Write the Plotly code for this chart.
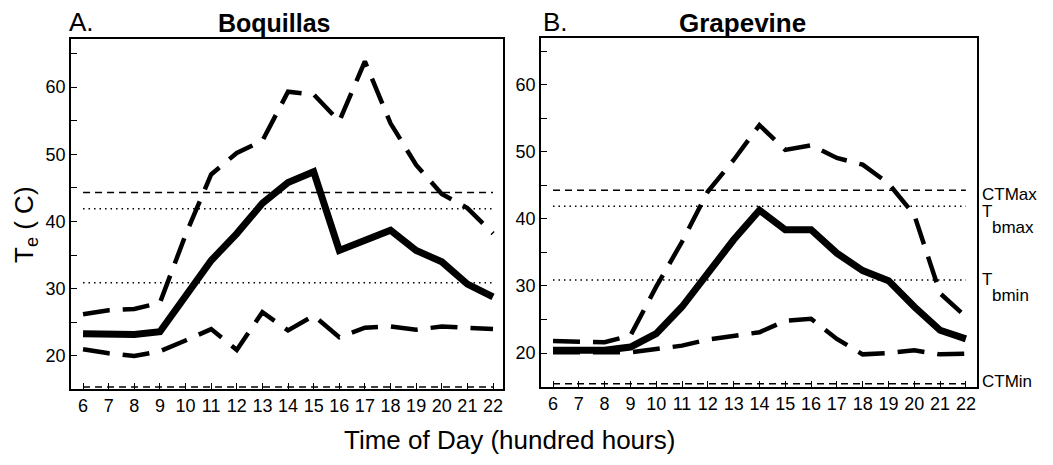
import plotly.graph_objects as go

# ---------------- data ----------------
hours = list(range(6, 23))
hour_labels = [str(h) for h in hours]

boq_mean = [23.3, 23.3, 23.2, 23.6, 28.8, 34.2, 38.2, 42.7, 45.8, 47.4, 35.7, 37.2, 38.7, 35.7, 34.0, 30.7, 28.8]
boq_max = [26.2, 26.8, 27.0, 27.9, 38.0, 47.0, 50.2, 52.0, 59.3, 58.9, 54.9, 63.8, 54.6, 48.4, 44.1, 42.0, 38.2]
boq_min = [21.0, 20.4, 20.0, 20.7, 22.3, 24.0, 20.9, 26.5, 23.8, 26.0, 22.8, 24.2, 24.4, 23.9, 24.4, 24.2, 24.0]

gra_mean = [20.4, 20.4, 20.4, 20.9, 22.9, 26.9, 31.8, 36.9, 41.3, 38.4, 38.4, 34.9, 32.3, 30.8, 26.9, 23.4, 22.1]
gra_max = [21.8, 21.7, 21.6, 22.6, 29.9, 36.6, 44.1, 48.8, 54.0, 50.3, 51.0, 49.1, 48.1, 45.3, 40.6, 28.9, 25.4]
gra_min = [20.1, 20.1, 20.1, 20.1, 20.6, 21.1, 22.0, 22.6, 23.1, 24.8, 25.1, 22.1, 19.8, 20.0, 20.4, 19.8, 19.9]

ct_max = 44.3
tb_max = 41.9
tb_min = 30.9
ct_min = 15.4

y_ticks = [20, 25, 30, 35, 40, 45, 50, 55, 60, 65]
y_labels = ["20", "", "30", "", "40", "", "50", "", "60", ""]

# ---------------- figure ----------------
# The page body adds an 8px margin, so the figure is sized/offset to compensate.
OFF = 8
W, H = 1053 - 2 * OFF, 465 - 2 * OFF
FONT = "Liberation Sans, Arial, Helvetica, sans-serif"

def px(x):
    return (x - OFF) / W

def py(y):
    return 1 - (y - OFF) / H

fig = go.Figure()

def add_panel(xa, ya, mean, mx, mn):
    for vals, width, dash in [(mx, 4.5, "27px,13px"), (mn, 4.5, "27px,13px"), (mean, 7, "solid")]:
        fig.add_trace(go.Scatter(
            x=hours, y=vals, mode="lines",
            line=dict(color="black", width=width, dash=dash),
            xaxis=xa, yaxis=ya, showlegend=False, hoverinfo="skip"))
    for val, dash in [(ct_max, "7px,5px"), (tb_max, "1.5px,4px"),
                      (tb_min, "1.5px,4px"), (ct_min, "7px,5px")]:
        fig.add_trace(go.Scatter(
            x=[hours[0], hours[-1]], y=[val, val], mode="lines",
            line=dict(color="black", width=1.5, dash=dash),
            xaxis=xa, yaxis=ya, showlegend=False, hoverinfo="skip"))

add_panel("x", "y", boq_mean, boq_max, boq_min)
add_panel("x2", "y2", gra_mean, gra_max, gra_min)

xcommon = dict(tickvals=hours, ticktext=hour_labels, ticks="inside", ticklen=6,
               tickcolor="black", showline=True, mirror=True, linecolor="black",
               linewidth=1.5, showgrid=False, zeroline=False,
               tickfont=dict(size=18, color="black", family=FONT))
ycommon = dict(tickvals=y_ticks, ticktext=y_labels, ticks="inside", ticklen=6,
               tickcolor="black", showline=True, mirror=True, linecolor="black",
               linewidth=1.5, showgrid=False, zeroline=False,
               tickfont=dict(size=18, color="black", family=FONT))

fig.update_layout(
    width=W, height=H,
    margin=dict(l=0, r=0, t=0, b=0),
    paper_bgcolor="white", plot_bgcolor="white",
    font=dict(family=FONT, color="black"),
    xaxis=dict(domain=[px(71), px(503)], range=[5.53, 22.39], anchor="y", **xcommon),
    yaxis=dict(domain=[py(389), py(39)], range=[15.09, 67.14], anchor="x", **ycommon),
    xaxis2=dict(domain=[px(541), px(977)], range=[5.535, 22.43], anchor="y2", **xcommon),
    yaxis2=dict(domain=[py(387), py(38)], range=[14.93, 67.0], anchor="x2", **ycommon),
)

def ann(text, x, y, size, xanchor="left", angle=0, pad=1):
    fig.add_annotation(text=text, x=px(x), y=py(y), xref="paper", yref="paper",
                       xanchor=xanchor, yanchor="middle", showarrow=False,
                       textangle=angle, borderpad=pad,
                       font=dict(size=size, family=FONT, color="black"))

ann("A.", 68, 22, 26, pad=0)
ann("<b>Boquillas</b>", 274.5, 23, 25, "center", pad=0)
ann("B.", 542, 22, 26, pad=0)
ann("<b>Grapevine</b>", 742, 23, 26, "center", pad=0)
ann("Time of Day (hundred hours)", 509, 440, 26, "center")
ann("T<sub>e</sub> ( C)", 25, 225, 26, "center", -90, pad=0)
ann("CTMax", 981, 195, 17, pad=0)
ann("T", 981, 212, 17, pad=0)
ann("bmax", 991, 228, 17, pad=0)
ann("T", 981, 279, 17, pad=0)
ann("bmin", 991, 295, 17, pad=0)
ann("CTMin", 981, 381, 17, pad=0)

fig.write_html("out.html")
